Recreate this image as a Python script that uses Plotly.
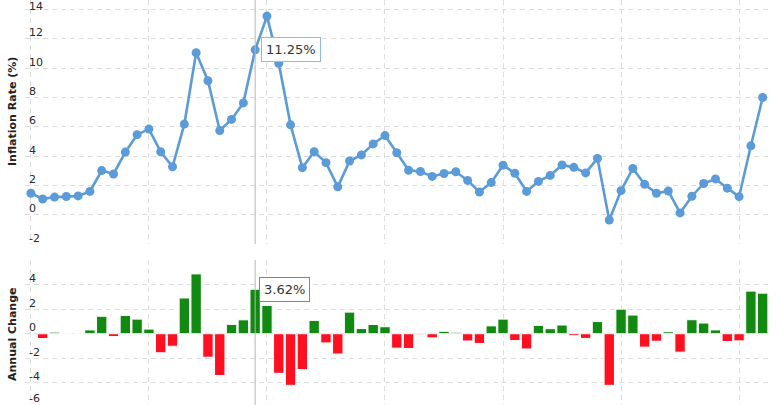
import plotly.graph_objects as go

years = list(range(1960, 2023))
inflation = [1.46, 1.07, 1.20, 1.24, 1.28, 1.59, 3.01, 2.78, 4.27, 5.46,
             5.84, 4.29, 3.27, 6.18, 11.05, 9.14, 5.74, 6.50, 7.63, 11.25,
             13.55, 10.33, 6.13, 3.21, 4.30, 3.55, 1.90, 3.66, 4.08, 4.83,
             5.40, 4.23, 3.03, 2.95, 2.61, 2.81, 2.93, 2.34, 1.55, 2.19,
             3.38, 2.83, 1.59, 2.27, 2.68, 3.39, 3.23, 2.85, 3.84, -0.36,
             1.64, 3.16, 2.07, 1.46, 1.62, 0.12, 1.26, 2.13, 2.44, 1.81,
             1.23, 4.70, 8.00]

change_years = list(range(1961, 2023))
annual_change = [-0.39, 0.13, 0.04, 0.04, 0.31, 1.42, -0.23, 1.49, 1.19,
                 0.38, -1.55, -1.02, 2.91, 4.87, -1.91, -3.40, 0.76, 1.13, 3.62,
                 2.30, -3.22, -4.20, -2.92, 1.09, -0.75, -1.65, 1.76, 0.42, 0.75,
                 0.57, -1.17, -1.20, -0.08, -0.34, 0.20, 0.12, -0.59, -0.79, 0.64,
                 1.19, -0.55, -1.24, 0.68, 0.41, 0.71, -0.16, -0.38, 0.99, -4.20,
                 2.00, 1.52, -1.09, -0.61, 0.16, -1.50, 1.14, 0.87, 0.31, -0.63,
                 -0.58, 3.47, 3.30]

top_ticks = [-2, 0, 2, 4, 6, 8, 10, 12, 14]
top_ticktext = ["-2", "0", "2", "4", "6", "8", "10", "12", "14"]
bottom_ticks = [-4, -2, 0, 2, 4, 6]
bottom_label_ticks = [-4, -2, 0, 2, 4]
bottom_ticktext = ["-4", "-2", "0", "2", "4"]
bottom_edge_label = "-6"
x_grid = [1960, 1970, 1980, 1990, 2000, 2010, 2020]
hover_year = 1979

FONT = "DejaVu Sans"
LINE_COLOR = "#5b9bd8"
GREEN = "#128a12"
RED = "#ff1020"
GRID = "#dddddd"
TICK_COLOR = "#2a2a2a"

bar_colors = [GREEN if v >= 0 else RED for v in annual_change]

fig = go.Figure()
fig.add_trace(go.Scatter(
    x=years, y=inflation, mode="lines+markers",
    line=dict(color=LINE_COLOR, width=2.6),
    marker=dict(color=LINE_COLOR, size=9),
    xaxis="x", yaxis="y", showlegend=False))
fig.add_trace(go.Bar(
    x=change_years, y=annual_change,
    marker=dict(color=bar_colors, line=dict(color="white", width=1)),
    xaxis="x2", yaxis="y2", showlegend=False))

axis_common = dict(showline=False, zeroline=False, ticks="", automargin=False,
                   showticklabels=False,
                   gridcolor=GRID, griddash="5px,4px", gridwidth=1)

TOP_DOMAIN = [1 - 244 / 405, 1]
BOT_DOMAIN = [0, 1 - 260 / 405]

fig.update_layout(
    width=780, height=405,
    margin=dict(l=25, r=12, t=0, b=0),
    paper_bgcolor="white", plot_bgcolor="white",
    bargap=0.12,
    font=dict(family=FONT, size=11, color=TICK_COLOR),
    xaxis=dict(domain=[0, 1], range=[1959.5, 2022.45], tickvals=x_grid,
               anchor="y", **axis_common),
    xaxis2=dict(domain=[0, 1], range=[1959.5, 2022.45], tickvals=x_grid,
                anchor="y2", matches="x", **axis_common),
    yaxis=dict(domain=TOP_DOMAIN, range=[-2, 14.65], tickvals=top_ticks,
               anchor="x", **axis_common),
    yaxis2=dict(domain=BOT_DOMAIN, range=[-5.8, 6.0], tickvals=bottom_ticks,
                anchor="x2", **axis_common),
)

# y tick labels, drawn just above their gridlines inside the plot
tick_font = dict(family=FONT, size=11, color=TICK_COLOR)
for v, t in zip(top_ticks, top_ticktext):
    fig.add_annotation(text=t, xref="paper", yref="y", x=0, y=v,
                       xanchor="left", yanchor="middle", showarrow=False,
                       borderpad=0, xshift=3, yshift=(3 if v == 14 else 6),
                       font=tick_font)
for v, t in zip(bottom_label_ticks, bottom_ticktext):
    fig.add_annotation(text=t, xref="paper", yref="y2", x=0, y=v,
                       xanchor="left", yanchor="middle", showarrow=False,
                       borderpad=0, xshift=3, yshift=6, font=tick_font)
fig.add_annotation(text=bottom_edge_label, xref="paper", yref="paper", x=0, y=0,
                   xanchor="left", yanchor="middle", showarrow=False,
                   borderpad=0, xshift=3, yshift=7, font=tick_font)

# hover crosshair lines
for yr in ["y", "y2"]:
    fig.add_shape(type="line", xref="x", yref=f"{yr} domain",
                  x0=hover_year, x1=hover_year, y0=0, y1=1,
                  line=dict(color="#b5b5b5", width=1))

# tooltips
fig.add_annotation(x=hover_year, y=inflation[years.index(hover_year)],
                   xref="x", yref="y", text="11.25%", showarrow=False,
                   xanchor="left", yanchor="middle", xshift=6,
                   font=dict(family=FONT, size=13, color="#333333"),
                   bgcolor="white", bordercolor="#8cbbe6", borderwidth=1, borderpad=4)
fig.add_annotation(x=hover_year, y=annual_change[change_years.index(hover_year)],
                   xref="x2", yref="y2", text="3.62%", showarrow=False,
                   xanchor="left", yanchor="middle", xshift=4,
                   font=dict(family=FONT, size=13, color="#333333"),
                   bgcolor="white", bordercolor="#5aa05a", borderwidth=1, borderpad=4)

# axis titles
fig.add_annotation(text="<b>Inflation Rate (%)</b>", xref="paper", yref="paper",
                   x=-25 / 743, y=1 - 112 / 405, xanchor="center", yanchor="middle",
                   textangle=-90, showarrow=False, xshift=12,
                   font=dict(family=FONT, size=11, color="#222222"))
fig.add_annotation(text="<b>Annual Change</b>", xref="paper", yref="paper",
                   x=-25 / 743, y=1 - 334 / 405, xanchor="center", yanchor="middle",
                   textangle=-90, showarrow=False, xshift=12,
                   font=dict(family=FONT, size=11, color="#222222"))

fig.write_html("out.html",
               config={"displayModeBar": False},
               post_script="document.body.style.margin='0';"
                           "document.body.style.overflow='hidden';")
